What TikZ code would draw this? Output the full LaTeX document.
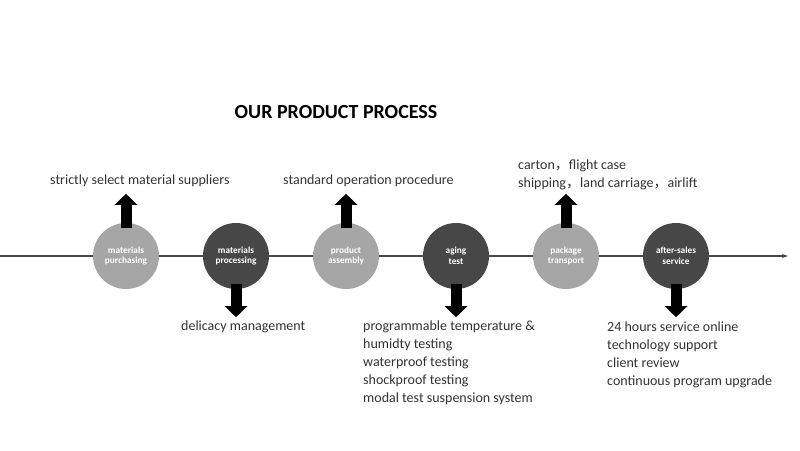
\documentclass[tikz,border=0pt]{standalone}
\usepackage{fontspec}
\setmainfont{Carlito}
\newfontfamily\cjk{Noto Sans CJK SC}
\usepackage{xcolor}
\usetikzlibrary{positioning,calc,arrows.meta}
\definecolor{lightstep}{HTML}{A6A6A6}
\definecolor{darkstep}{HTML}{474747}
\definecolor{notegray}{HTML}{333333}
\newcommand{\fwcomma}{{\cjk ，}}

\begin{document}
\begin{tikzpicture}[x=1pt,y=-1pt,
		stepcircle/.style={circle, minimum size=66pt, inner sep=0, text=white, align=center, font=\bfseries\fontsize{9.3}{10.5}\selectfont},
		blockarrow/.style={black, line width=11pt, -{Triangle[width=22pt,length=11pt]}},
		note/.style={anchor=west, inner sep=0, align=left, text=notegray, font=\fontsize{14}{18}\selectfont}]
	\fill[white] (0,0) rectangle (800,450);
	\useasboundingbox (0,0) rectangle (800,450);

	\node[font=\bfseries\fontsize{20}{22}\selectfont] (title) at (336,112) {OUR PRODUCT PROCESS};

	% time line
	\coordinate (lstart) at (0,256);
	\coordinate (lend) at (788,256);
	\draw[darkstep, line width=1.2pt, -{Stealth[length=6pt,width=4pt]}] (lstart) -- (lend);

	% steps
	\node[stepcircle, fill=lightstep] (purch) at (126,256) {materials\\purchasing};
	\node[stepcircle, fill=darkstep, right=43.6pt of purch] (proc) {materials\\processing};
	\node[stepcircle, fill=lightstep, right=43.6pt of proc] (assem) {product\\assembly};
	\node[stepcircle, fill=darkstep, right=43.6pt of assem] (aging) {aging\\test};
	\node[stepcircle, fill=lightstep, right=43.6pt of aging] (pack) {package\\transport};
	\node[stepcircle, fill=darkstep, right=43.6pt of pack] (serv) {after-sales\\service};

	% block arrows
	\coordinate[above=29pt of purch.north] (purchtip);
	\coordinate[below=28pt of proc.south] (proctip);
	\coordinate[above=29pt of assem.north] (assemtip);
	\coordinate[below=28pt of aging.south] (agingtip);
	\coordinate[above=29pt of pack.north] (packtip);
	\coordinate[below=28pt of serv.south] (servtip);
	\draw[blockarrow] ([yshift=-5pt]purch.north) -- (purchtip);
	\draw[blockarrow] ([yshift=5pt]proc.south) -- (proctip);
	\draw[blockarrow] ([yshift=-5pt]assem.north) -- (assemtip);
	\draw[blockarrow] ([yshift=5pt]aging.south) -- (agingtip);
	\draw[blockarrow] ([yshift=-5pt]pack.north) -- (packtip);
	\draw[blockarrow] ([yshift=5pt]serv.south) -- (servtip);

	% notes
	\node[note] (purchnote) at (50,180.5) {strictly select material suppliers};
	\node[note] (procnote) at (181,326.5) {delicacy management};
	\node[note] (assemnote) at (283,180.5) {standard operation procedure};
	\node[note] (agingnote) at (363,362.5) {programmable temperature \&\\humidty testing\\waterproof testing\\shockproof testing\\modal test suspension system};
	\node[note] (packnote) at (518,175) {carton\fwcomma flight case\\shipping\fwcomma land carriage\fwcomma airlift};
	\node[note] (servnote) at (607,354.5) {24 hours service online\\technology support\\client review\\continuous program upgrade};
\end{tikzpicture}
\end{document}
